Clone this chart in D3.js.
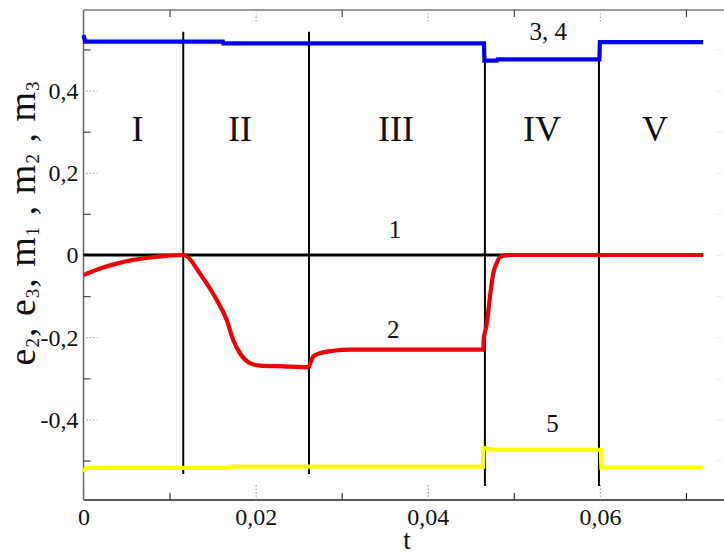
<!DOCTYPE html>
<html>
<head>
<meta charset="utf-8">
<script src="https://cdn.jsdelivr.net/npm/d3@7"></script>
<style>
  html, body { margin: 0; padding: 0; background: #fff; }
  svg { display: block; }
  text { font-family: "Liberation Serif", "Times New Roman", serif; fill: #111; }
</style>
</head>
<body>
<svg id="chart" width="724" height="554"></svg>
<script>
// ---- data ----
// curve 1 : e2 (zero line)
const curve1T = [0, 0.072];
const curve1V = [0, 0];

// curve 2 : e3
const curve2T = [0, 0.00192, 0.00386, 0.00575, 0.00773, 0.00967, 0.01156, 0.01199,
  0.01353, 0.01547, 0.01664, 0.0174, 0.01818, 0.01934, 0.0205, 0.02321, 0.0262,
  0.02632, 0.0267, 0.02748, 0.02902, 0.03096, 0.04645, 0.0465, 0.04684, 0.04703,
  0.04723, 0.04743, 0.04761, 0.048, 0.04838, 0.04897, 0.04955, 0.072];
const curve2V = [-0.049, -0.033, -0.021, -0.012, -0.006, -0.002, 0, -0.003,
  -0.045, -0.109, -0.158, -0.207, -0.239, -0.263, -0.269, -0.271, -0.273,
  -0.266, -0.247, -0.239, -0.233, -0.230, -0.230, -0.205, -0.170, -0.138,
  -0.101, -0.069, -0.045, -0.020, -0.006, -0.001, 0, 0];

// curves 3, 4 : m1, m2
const curve34T = [0, 0.0002, 0.0162, 0.01625, 0.04653, 0.04658, 0.04804, 0.0481, 0.05994, 0.06, 0.072];
const curve34V = [0.535, 0.519, 0.519, 0.515, 0.515, 0.473, 0.473, 0.476, 0.476, 0.518, 0.518];

// curve 5 : m3
const curve5T = [0, 0.0003, 0.0170, 0.01705, 0.04641, 0.04646, 0.0476, 0.06012, 0.06017, 0.072];
const curve5V = [-0.528, -0.518, -0.518, -0.515, -0.515, -0.469, -0.474, -0.474, -0.517, -0.517];

// stage boundaries
const boundT = [0.01159, 0.0262, 0.04664, 0.05989];
const boundTop = [0.543, 0.543, 0.518, 0.518];
const boundBottom = [-0.533, -0.533, -0.562, -0.562];

// stage names
const stageNames = ["I", "II", "III", "IV", "V"];
const stageT = [0.00627, 0.01818, 0.0363, 0.05326, 0.06639];
const stageV = 0.277;

// curve numbers
const curveLabels = ["1", "2", "3, 4", "5"];
const curveLabelT = [0.0362, 0.0360, 0.0540, 0.0545];
const curveLabelV = [0.041, -0.202, 0.523, -0.431];

// ticks
const xMajor = [0, 0.02, 0.04, 0.06];
const xMinor = [0.01, 0.03, 0.05, 0.07];
const yMajor = [-0.4, -0.2, 0, 0.2, 0.4];
const yMinor = [-0.5, -0.3, -0.1, 0.1, 0.3, 0.5];
const comma = s => s.replace(".", ",").replace("\u2212", "-");
const fmtX = v => v === 0 ? "0" : comma(d3.format(".2f")(v));
const fmtY = v => v === 0 ? "0" : comma(d3.format(".1f")(v));

// ---- layout ----
const svg = d3.select("#chart");
const plotLeft = 83.5, plotTop = 10, plotBottom = 500, plotRight = 729;

const x = d3.scaleLinear().domain([0, 0.075]).range([plotLeft, plotRight]);
const y = d3.scaleLinear().domain([-0.596, 0.596]).range([plotBottom, plotTop]);

// frame
svg.append("line").attr("x1", plotLeft).attr("x2", 724).attr("y1", plotTop).attr("y2", plotTop)
  .attr("stroke", "#777").attr("stroke-width", 1.5);
svg.append("line").attr("x1", plotLeft).attr("x2", plotLeft).attr("y1", plotTop).attr("y2", plotBottom)
  .attr("stroke", "#666").attr("stroke-width", 1.5);
svg.append("line").attr("x1", plotLeft).attr("x2", 724).attr("y1", plotBottom).attr("y2", plotBottom)
  .attr("stroke", "#222").attr("stroke-width", 1.5);

function styleTicks(g, dotted, color) {
  g.select(".domain").remove();
  g.selectAll(".tick line").attr("stroke", color).attr("stroke-width", 1.2)
    .attr("stroke-dasharray", dotted ? "1.2,2.2" : null);
}

// bottom axis
svg.append("g").attr("transform", `translate(0,${plotBottom})`)
  .call(d3.axisBottom(x).tickValues(xMinor).tickSize(-7).tickFormat(""))
  .call(g => styleTicks(g, false, "#333"));
const xb = svg.append("g").attr("transform", `translate(0,${plotBottom})`)
  .call(d3.axisBottom(x).tickValues(xMajor).tickSize(-15).tickPadding(0).tickFormat(fmtX))
  .call(g => styleTicks(g, true, "#888"));
xb.selectAll(".tick text").attr("y", 25).attr("dy", 0)
  .style("font-family", "Liberation Serif").style("font-size", "24px").attr("fill", "#111");

// top axis
svg.append("g").attr("transform", `translate(0,${plotTop})`)
  .call(d3.axisTop(x).tickValues(xMinor).tickSize(-7).tickFormat(""))
  .call(g => styleTicks(g, false, "#444"));
svg.append("g").attr("transform", `translate(0,${plotTop})`)
  .call(d3.axisTop(x).tickValues(xMajor.filter(v => v > 0)).tickSize(-12).tickFormat(""))
  .call(g => styleTicks(g, true, "#999"));

// left axis
svg.append("g").attr("transform", `translate(${plotLeft},0)`)
  .call(d3.axisLeft(y).tickValues(yMinor).tickSize(-7).tickFormat(""))
  .call(g => styleTicks(g, false, "#444"));
const yl = svg.append("g").attr("transform", `translate(${plotLeft},0)`)
  .call(d3.axisLeft(y).tickValues(yMajor).tickSize(-14).tickPadding(0).tickFormat(fmtY))
  .call(g => styleTicks(g, true, "#999"));
yl.selectAll(".tick line").attr("x1", 3);
yl.selectAll(".tick text").attr("x", -5).attr("dy", "0.33em")
  .style("font-family", "Liberation Serif").style("font-size", "24px").attr("fill", "#111");

// faint right-hand ticks
svg.append("g").attr("transform", `translate(${plotRight},0)`)
  .call(d3.axisRight(y).tickValues(yMinor.concat(yMajor)).tickSize(-12).tickFormat(""))
  .call(g => styleTicks(g, true, "#ccc"));

// stage boundaries
svg.append("g").selectAll("line").data(boundT).join("line")
  .attr("x1", d => x(d)).attr("x2", d => x(d))
  .attr("y1", (d, i) => y(boundTop[i])).attr("y2", (d, i) => y(boundBottom[i]))
  .attr("stroke", "#000").attr("stroke-width", 2);

// curves
const line = d3.line().x(d => x(d[0])).y(d => y(d[1]));
const smooth = d3.line().x(d => x(d[0])).y(d => y(d[1])).curve(d3.curveMonotoneX);
const zip = (t, v) => t.map((d, i) => [d, v[i]]);

svg.append("path").datum(zip(curve1T, curve1V)).attr("d", line)
  .attr("fill", "none").attr("stroke", "#000").attr("stroke-width", 3.2);
svg.append("path").datum(zip(curve34T, curve34V)).attr("d", line)
  .attr("fill", "none").attr("stroke", "#0000e6").attr("stroke-width", 4.2);
svg.append("path").datum(zip(curve5T, curve5V)).attr("d", line)
  .attr("fill", "none").attr("stroke", "#ffff00").attr("stroke-width", 4.2);
svg.append("path").datum(zip(curve2T, curve2V)).attr("d", smooth)
  .attr("fill", "none").attr("stroke", "#ee0000").attr("stroke-width", 4.2)
  .attr("stroke-linejoin", "round");

// stage names
svg.append("g").selectAll("text").data(stageNames).join("text")
  .attr("x", (d, i) => x(stageT[i])).attr("y", y(stageV))
  .attr("text-anchor", "middle").style("font-size", "36px").text(d => d);

// curve numbers
svg.append("g").selectAll("text").data(curveLabels).join("text")
  .attr("x", (d, i) => x(curveLabelT[i])).attr("y", (d, i) => y(curveLabelV[i]))
  .attr("text-anchor", "middle").style("font-size", "25px").text(d => d);

// axis titles
svg.append("text").attr("x", 407).attr("y", 549).attr("text-anchor", "middle")
  .style("font-size", "27px").text("t");

const yTitle = svg.append("text")
  .attr("transform", "translate(35,223) rotate(-90)")
  .attr("text-anchor", "middle").style("font-size", "38px").style("letter-spacing", "1px");
const parts = [["e", "2"], [", e", "3"], [", m", "1"], [" , m", "2"], [" , m", "3"]];
parts.forEach(([main, sub], i) => {
  yTitle.append("tspan").attr("dy", i === 0 ? 0 : -4).text(main);
  yTitle.append("tspan").style("font-size", "19px").attr("dy", 4).text(sub);
});
</script>
</body>
</html>
